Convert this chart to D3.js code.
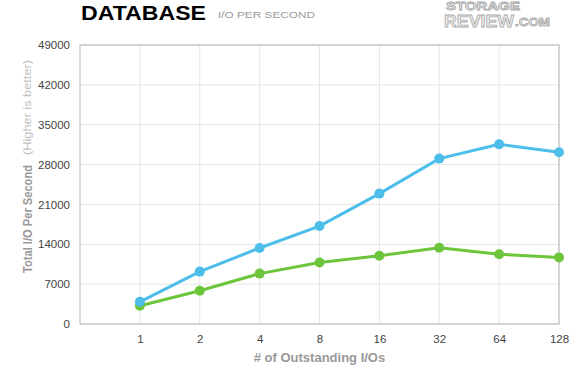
<!DOCTYPE html>
<html>
<head>
<meta charset="utf-8">
<script src="https://cdn.jsdelivr.net/npm/d3@7"></script>
<style>
  body { margin: 0; background: #fff; }
  text { font-family: "Liberation Sans", Arial, sans-serif; }
</style>
</head>
<body>
<div id="chart"></div>
<script>
// data
const categories = ["1", "2", "4", "8", "16", "32", "64", "128"];
const blueSeries = [3900, 9200, 13350, 17200, 22900, 29050, 31550, 30150];
const greenSeries = [3200, 5850, 8850, 10800, 12000, 13400, 12250, 11700];
const yTicks = [0, 7000, 14000, 21000, 28000, 35000, 42000, 49000];

const W = 580, H = 390;
const margin = { top: 45, right: 21, bottom: 66, left: 80 },
      width = W - margin.left - margin.right,
      height = H - margin.top - margin.bottom;

const root = d3.select("#chart").append("svg")
    .attr("width", W).attr("height", H);

const svg = root.append("g")
    .attr("transform", `translate(${margin.left},${margin.top})`);

// x: point scale with an empty slot on the left
const x = d3.scalePoint()
    .domain(["", ...categories])
    .range([0, width]);

const y = d3.scaleLinear()
    .domain([0, 49000])
    .range([height, 0]);

// soft shadow under the plot
const grad = root.append("defs").append("radialGradient")
    .attr("id", "shadow").attr("cx", "50%").attr("cy", "0%").attr("r", "50%");
grad.append("stop").attr("offset", "0%").attr("stop-color", "#000").attr("stop-opacity", 0.08);
grad.append("stop").attr("offset", "100%").attr("stop-color", "#000").attr("stop-opacity", 0);
svg.append("ellipse")
    .attr("cx", width / 2).attr("cy", height)
    .attr("rx", width / 2).attr("ry", 10)
    .attr("fill", "url(#shadow)");

svg.append("rect")
    .attr("width", width).attr("height", height)
    .attr("fill", "#fff");

// grid
svg.append("g")
    .selectAll("line")
    .data(yTicks)
    .join("line")
    .attr("x1", 0).attr("x2", width)
    .attr("y1", d => y(d)).attr("y2", d => y(d))
    .attr("stroke", "#e6e6e6");

svg.append("g")
    .selectAll("line")
    .data(categories)
    .join("line")
    .attr("x1", d => x(d)).attr("x2", d => x(d))
    .attr("y1", 0).attr("y2", height)
    .attr("stroke", "#e6e6e6");

svg.append("rect")
    .attr("width", width).attr("height", height)
    .attr("fill", "none")
    .attr("stroke", "#b5b5b5");

// axes
const yAxis = svg.append("g")
    .call(d3.axisLeft(y).tickValues(yTicks).tickFormat(d3.format("d")).tickSize(0).tickPadding(10));
yAxis.select(".domain").remove();
yAxis.selectAll("text")
    .style("font-size", "11.5px").style("fill", "#444")
    .style("font-family", "Liberation Sans, Arial, sans-serif");

const xAxis = svg.append("g")
    .attr("transform", `translate(0,${height})`)
    .call(d3.axisBottom(x).tickValues(categories).tickSize(0).tickPadding(11));
xAxis.select(".domain").remove();
xAxis.selectAll("text")
    .style("font-size", "11.5px").style("fill", "#444")
    .style("font-family", "Liberation Sans, Arial, sans-serif");

// lines
const series = [
  { values: greenSeries, color: "#6cc53b" },
  { values: blueSeries, color: "#4dbdea" }
];

const line = d3.line()
    .x((d, i) => x(categories[i]))
    .y(d => y(d));

series.forEach(s => {
  svg.append("path")
      .datum(s.values)
      .attr("d", line)
      .attr("fill", "none")
      .attr("stroke", s.color)
      .attr("stroke-width", 3);
  svg.append("g")
      .selectAll("circle")
      .data(s.values)
      .join("circle")
      .attr("cx", (d, i) => x(categories[i]))
      .attr("cy", d => y(d))
      .attr("r", 5)
      .attr("fill", s.color);
});

// axis titles
root.append("text")
    .attr("x", margin.left + width / 2)
    .attr("y", 362)
    .attr("text-anchor", "middle")
    .style("font-size", "13px")
    .style("font-weight", "bold")
    .style("fill", "#999")
    .text("# of Outstanding I/Os");

root.append("text")
    .attr("transform", "translate(32,273) rotate(-90)")
    .attr("textLength", 108)
    .attr("lengthAdjust", "spacingAndGlyphs")
    .style("font-size", "13px").style("font-weight", "bold").style("fill", "#999")
    .text("Total I/O Per Second");

root.append("text")
    .attr("transform", "translate(31,155) rotate(-90)")
    .attr("textLength", 95)
    .attr("lengthAdjust", "spacingAndGlyphs")
    .style("font-size", "11px").style("fill", "#c0c0c0")
    .text("(Higher is better)");

// title
root.append("text")
    .attr("x", 81).attr("y", 19.5)
    .style("font-size", "21px")
    .style("font-weight", "bold")
    .style("fill", "#000")
    .attr("textLength", 125)
    .attr("lengthAdjust", "spacingAndGlyphs")
    .text("DATABASE");

root.append("text")
    .attr("x", 218).attr("y", 17.5)
    .style("font-size", "9px")
    .style("fill", "#999")
    .attr("textLength", 97)
    .attr("lengthAdjust", "spacingAndGlyphs")
    .text("I/O PER SECOND");

// logo
const logo = root.append("g")
    .style("font-weight", "bold")
    .style("fill", "#f2f2f2")
    .style("stroke", "#aaa")
    .style("stroke-width", 0.8);
logo.append("text")
    .attr("x", 446).attr("y", 10)
    .style("font-size", "11px")
    .attr("textLength", 74)
    .attr("lengthAdjust", "spacingAndGlyphs")
    .text("STORAGE");
logo.append("text")
    .attr("x", 444).attr("y", 27)
    .style("font-size", "16px")
    .attr("textLength", 70)
    .attr("lengthAdjust", "spacingAndGlyphs")
    .text("REVIEW");
logo.append("text")
    .attr("x", 515).attr("y", 26)
    .style("font-size", "11px")
    .attr("textLength", 35)
    .attr("lengthAdjust", "spacingAndGlyphs")
    .text(".COM");
</script>
</body>
</html>
